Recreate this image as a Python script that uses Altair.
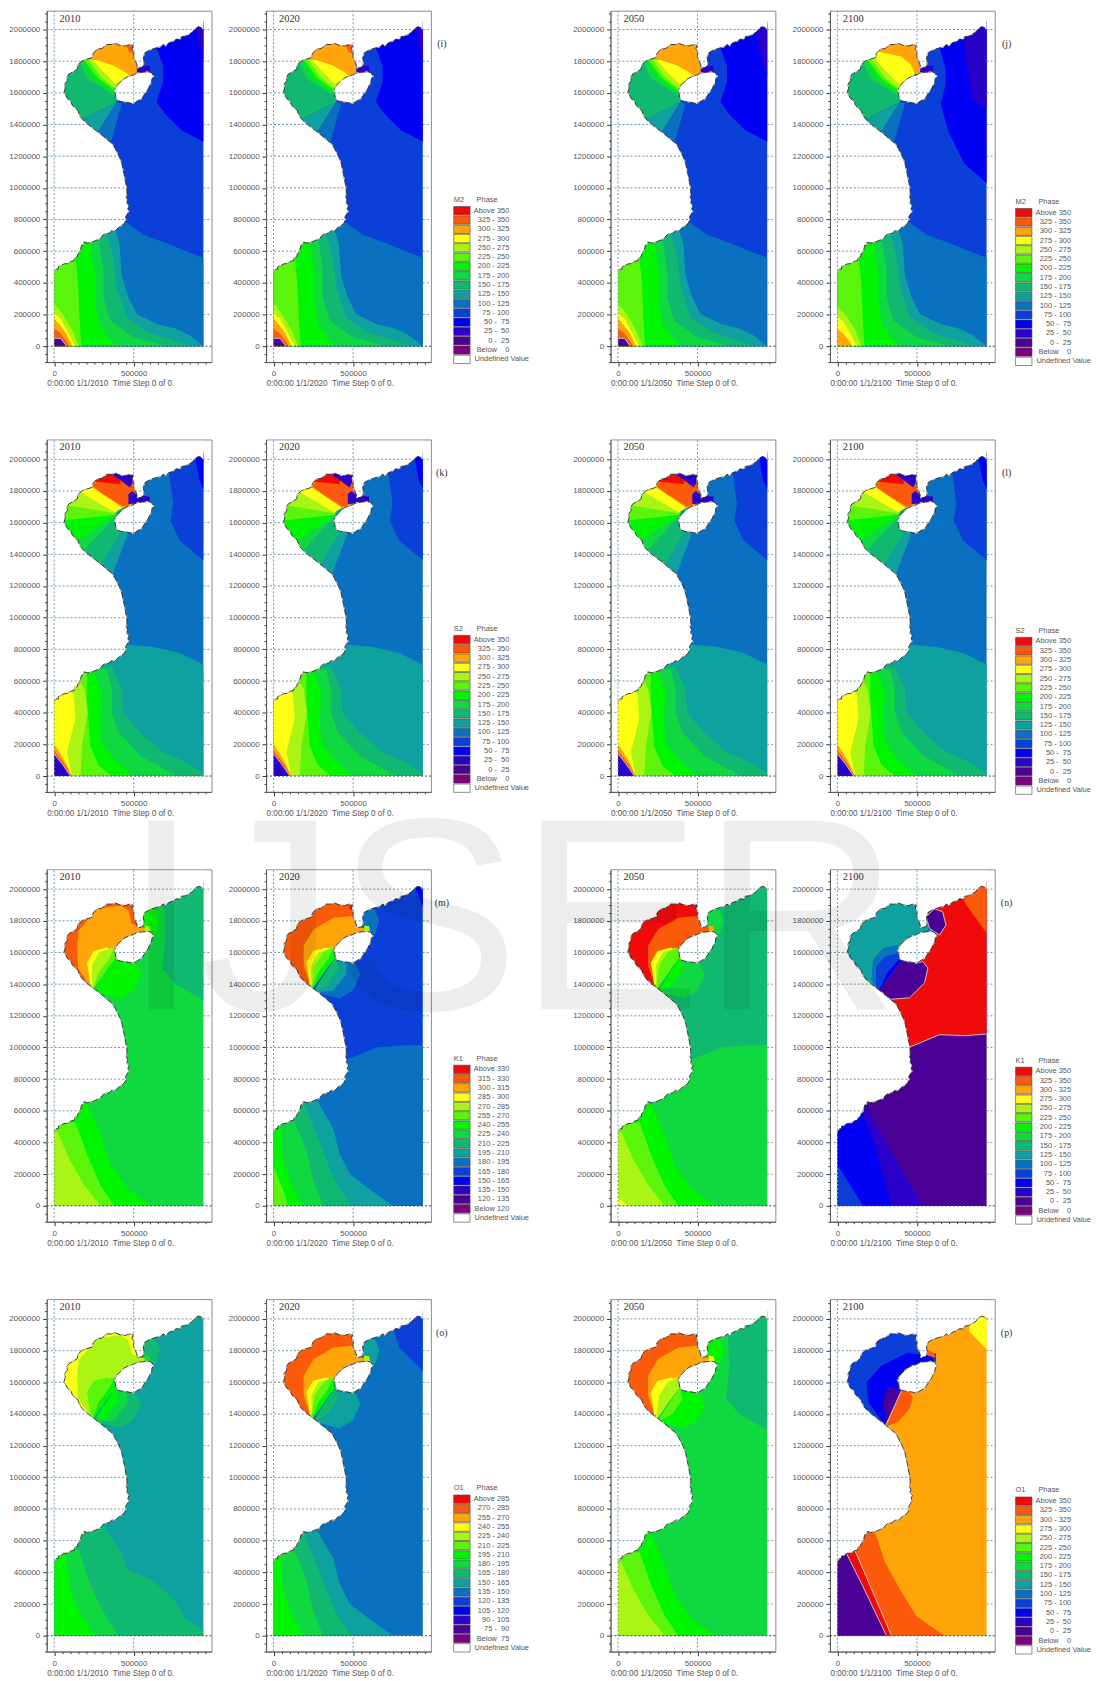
import altair as alt
import pandas as pd

COL = ["#F00A0A", "#FA5A0A", "#FFA50A", "#FFFF14", "#AAF514", "#5AF50A", "#00F500", "#10D840",
       "#10B870", "#0FA0A0", "#0A70C0", "#0A40D8", "#0000F5", "#2B00C8", "#4B0096", "#7F007F", "#FFFFFF"]

COAST = [(0,470),(14,488),(25,486),(27,503),(45,510),(62,520),(85,522),(108,537),(125,540),(129,558),(145,565),
 (149,582),(162,595),(166,612),(172,637),(183,640),(187,658),(210,652),(239,658),(262,668),(290,679),(300,695),
 (315,708),(345,714),(362,730),(384,729),(405,750),(425,762),(440,775),(452,798),(448,815),(456,829),(470,850),
 (463,870),(472,885),(456,902),(462,925),(452,945),(458,965),(456,1000),(448,1040),(440,1083),(432,1120),(425,1156),
 (412,1190),(398,1219),(382,1250),(363,1281),(338,1300),(311,1323),(285,1345),(259,1365),(232,1385),(207,1406),
 (185,1425),(166,1448),(155,1470),(149,1490),(130,1505),(114,1521),(105,1545),(83,1563),(72,1585),(62,1604),
 (70,1630),(66,1655),(83,1677),(80,1700),(93,1719),(118,1732),(145,1750),(150,1778),(176,1802),(205,1812),
 (239,1823),(245,1850),(270,1875),(300,1880),(332,1906),(360,1905),(384,1912),(415,1900),(446,1896),(475,1905),
 (498,1900),(490,1880),(502,1854),(498,1830),(510,1800),(519,1781),(523,1756),(545,1760),(560,1767),(565,1795),
 (560,1823),(571,1854),(600,1870),(643,1885),(670,1890),(685,1906),(700,1895),(720,1915),(747,1925),(770,1940),
 (790,1935),(799,1955),(825,1958),(851,1972),(870,1985),(885,2005),(907,2018),(925,2012),(938,2000)]
ISLAND = [(384,1629),(398,1650),(415,1667),(440,1690),(467,1704),(495,1712),(519,1725),(555,1730),(591,1733),
 (610,1728),(627,1704),(615,1690),(612,1667),(600,1645),(591,1625),(570,1595),(550,1562),(525,1550),(498,1531),
 (470,1538),(446,1542),(420,1545),(398,1552),(388,1570),(384,1594),(378,1610)]

XTOP, XLOW = 989, -47
YTOP, YLOW = 2125, -100

# ---------- shared band outlines (km) ----------
def west(pts):
    return pts + [(0, 0), (0, pts[0][1])]

RECT = [(0,0),(938,0),(938,2050),(0,2050)]
M_NORTH = [(452,783),(560,704),(705,652),(830,600),(938,558),(938,0),(0,0),(0,783)]
M_NE = [(643,1885),(685,1771),(685,1667),(643,1542),(705,1458),(799,1365),(938,1292),(938,2050),(643,2050)]
M_NE_2100 = [(643,1885),(680,1750),(680,1650),(650,1530),(700,1350),(800,1150),(938,1030),(938,2050),(643,2050)]
M_C13 = [(892,2030),(913,1896),(938,1812),(938,2030)]
M_C13_2050 = [(860,2030),(885,1900),(938,1700),(938,2030)]
M_C13_2100 = [(800,2030),(810,1800),(850,1560),(938,1500),(938,2030)]
M_SOUTH = [
 (9,[(384,735),(411,642),(425,444),(467,308),(519,204),(643,142),(768,110),(851,69),(938,0)]),
 (8,[(332,708),(373,558),(394,370),(457,182),(602,82),(851,6),(860,0)]),
 (7,[(280,665),(310,476),(310,307),(352,163),(497,56),(708,0)]),
 (6,[(228,652),(259,458),(259,270),(278,144),(384,0)]),
 (5,[(134,552),(149,414),(159,182),(170,0)])]
M_CORNER = [
 (4,[(0,270),(51,207),(114,100),(155,0)]),
 (3,[(0,207),(41,175),(90,81),(134,0)]),
 (2,[(0,175),(34,135),(76,81),(113,0)]),
 (1,[(0,110),(41,81),(72,38),(97,0)])]
M_CORNER_2100 = [
 (4,[(0,250),(51,200),(114,100),(150,0)]),
 (3,[(0,190),(41,150),(80,81),(120,0)]),
 (2,[(0,110),(35,80),(70,40),(95,0)])]
M_PURPLE = [(0,50),(41,50),(78,0)]
M_BAY = [
 (8,[(0,1440),(186,1437),(394,1542),(384,1600),(384,1650),(480,1700),(525,1750),(525,2000),(0,2000)]),
 (7,[(150,1820),(207,1689),(290,1640),(390,1575),(480,1700),(525,2000),(150,2000)]),
 (6,[(176,1815),(255,1690),(320,1640),(390,1595),(480,1700),(525,2000),(176,2000)]),
 (5,[(186,1815),(275,1695),(335,1650),(390,1610),(480,1700),(525,2000),(186,2000)]),
 (4,[(217,1810),(290,1705),(340,1660),(390,1625),(480,1700),(525,2000),(217,2000)]),
 (3,[(249,1800),(311,1730),(384,1657),(480,1700),(525,2000),(249,2000)])]
M_ORANGE = [(176,1815),(270,1806),(373,1772),(446,1730),(488,1699),(530,1700),(530,2000),(176,2000)]
M_ORANGE_2100 = [(190,1880),(300,1850),(400,1830),(460,1780),(490,1720),(530,1700),(530,2000),(190,2000)]
M_TIP = [(446,1915),(510,1915),(510,1840),(470,1860)]
M_TEAL = [(100,1420),(186,1437),(394,1542),(269,1344),(200,1300),(100,1300)]
M_BLUE = [(394,1542),(425,1532),(352,1272),(300,1250),(269,1344)]
M_STRAIT = [(520,1720),(600,1720),(600,1770),(520,1770)]

def m2(ne, c13, corner, orange, purple, tip):
    out = [(11, RECT), (12, ne), (13, c13), (10, M_NORTH)]
    out += [(c, west(p)) for c, p in M_SOUTH] + [(c, west(p)) for c, p in corner]
    out += [(14, M_PURPLE + [(0, 0)], M_PURPLE)] if purple else []
    out += [(c, p) for c, p in M_BAY] + [(2, orange)]
    out += [(1, M_TIP)] if tip else []
    out += [(9, M_TEAL), (10, M_BLUE), (13, M_STRAIT)]
    return out

S_NE = [(723,1906),(748,1718),(731,1613),(789,1488),(938,1363),(938,2050),(723,2050)]
S_TOP = [(883,2030),(914,1864),(938,1812),(938,2030)]
S_NORTH = [(460,830),(625,815),(790,777),(938,704),(938,0),(0,0),(0,830)]
S_SOUTH = [
 (8,[(362,694),(425,548),(435,401),(540,276),(685,150),(831,88),(938,15),(938,0)]),
 (7,[(331,673),(362,548),(362,401),(404,276),(540,130),(769,0)]),
 (6,[(248,663),(300,527),(290,360),(300,213),(373,109),(498,0)]),
 (5,[(206,652),(206,485),(217,339),(227,192),(279,67),(362,0)]),
 (4,[(150,620),(190,548),(210,401),(175,192),(165,0)]),
 (3,[(100,540),(123,516),(133,360),(81,150),(112,0)]),
 (2,[(0,203),(40,140),(81,67),(112,0)]),
 (1,[(0,161),(40,109),(71,67),(106,0)])]
S_PURPLE = [(0,140),(50,77),(102,0)]
S_BAY = [
 (9,[(0,1279),(369,1279),(460,1519),(470,1640),(525,1720),(525,2000),(0,2000)]),
 (8,[(0,1300),(300,1342),(430,1560),(383,1634),(525,2000),(0,2000)]),
 (7,[(0,1400),(185,1425),(383,1634),(525,2000),(0,2000)]),
 (6,[(0,1488),(144,1488),(383,1650),(525,2000),(0,2000)]),
 (5,[(0,1613),(60,1613),(383,1650),(525,2000),(0,2000)]),
 (4,[(0,1707),(92,1707),(383,1660),(525,2000),(0,2000)]),
 (3,[(0,1801),(150,1801),(383,1665),(440,1700),(250,1830),(100,2000),(0,2000)]),
 (2,[(230,1830),(435,1690),(525,1700),(525,2000),(200,2000)]),
 (1,[(269,1864),(240,1830),(310,1780),(435,1700),(467,1708),(525,1780),(525,2000),(220,2000)]),
 (0,[(250,1860),(415,1843),(430,2000),(250,2000)]),
 (13,[(362,1906),(415,1870),(477,1822),(508,1889),(508,2000),(362,2000)]),
 (13,[(467,1781),(490,1800),(525,1770),(600,1765),(600,1725),(467,1718)])]

def s2():
    out = [(10, RECT), (11, S_NE), (12, S_TOP), (9, S_NORTH)]
    out += [(c, west(p)) for c, p in S_SOUTH] + [(13, S_PURPLE + [(0, 0)], S_PURPLE)]
    out += [(c, p) for c, p in S_BAY]
    return out

D_S1000 = [(460,925),(650,1000),(800,1012),(938,1015),(938,0),(0,0),(0,925)]
D_CORNER = [(880,2030),(938,1890),(938,2030)]
D_NE = [(690,1950),(700,1700),(680,1500),(760,1400),(938,1300),(938,2050),(690,2050)]
D_NE2 = [(750,1950),(790,1820),(938,1670),(938,2050),(750,2050)]
B_LINES = [[(270,671),(374,494),(416,327),(479,202),(584,119),(751,0)],
           [(186,661),(270,452),(333,286),(395,140),(490,0)],
           [(123,557),(207,348),(249,161),(312,0)],
           [(50,494),(50,327),(102,161),(186,0)],
           [(2,244),(60,98),(92,0)]]
K_LINES = [[(210,643),(294,445),(357,256),(462,109),(609,0)],
           [(136,525),(210,315),(294,126),(378,0)],
           [(21,466),(95,294),(189,130),(294,0)],
           [(0,46),(73,0)]]
O_LINES = [[(310,694),(425,527),(456,422),(602,359),(748,234),(831,98),(938,35),(938,0)],
           [(154,548),(227,318),(310,150),(404,0)],
           [(71,506),(102,297),(165,130),(258,0)]]
N0 = [(560,1890),(640,1870),(665,1800),(640,1720),(600,1700),(540,1740),(540,1890)]
N1 = [(570,1720),(610,1720),(600,1765),(570,1770)]
BAY = [(0,1300),(241,1365),(385,1590),(500,1720),(525,1720),(525,2000),(0,2000)]
Z1 = [(241,1365),(189,1516),(189,1642),(252,1747),(378,1820),(493,1831),(546,1757),(600,1745),(600,1720),(487,1715),(388,1642),(385,1590)]
Z1_WIDE = [(241,1365),(150,1500),(144,1634),(154,1739),(269,1876),(415,1897),(467,1866),(488,1781),(546,1757),(600,1745),(600,1720),(487,1715),(388,1642),(385,1590)]
Z2 = [(241,1365),(241,1474),(283,1590),(378,1625),(385,1590)]
HUB = (400,1590)
LOBES = [[(260,1349),(416,1310),(500,1362),(546,1463),(510,1537),(458,1537),HUB],
         [(260,1349),(374,1359),(458,1463),(458,1526),(395,1578),HUB],
         [(249,1349),(343,1400),(406,1495),(385,1578),HUB],
         [(249,1359),(301,1432),(364,1537),(374,1610),HUB],
         [(238,1359),(280,1474),(343,1558),(374,1624),HUB],
         [(238,1370),(259,1516),(312,1600),(374,1631),HUB],
         [(238,1380),(238,1516),(280,1600),(364,1631),HUB],
         [(228,1391),(207,1537),(249,1610),(333,1631),HUB]]
LOBE_ORDER = [0, 1, 2, 3, 7, 6, 5, 4]
RED_TIP = [(470,1930),(520,1930),(520,1860),(480,1870)]

def diurnal(e0, e1, ne, ne_shape, lines, line_cols, bay, z1, z2, lobes, n0, n1, tip=None, z1_shape=Z1):
    out = [(e0, RECT)]
    if e1 is not None:
        out.append((e1, D_S1000))
    if ne is not None:
        out.append((ne, ne_shape))
    out += [(c, west(p)) for c, p in zip(line_cols, lines)]
    out += [(n0, N0), (bay, BAY), (z1, z1_shape)]
    if z2 is not None:
        out.append((z2, Z2))
    out.append((n1, N1))
    out += [(lobes[k], LOBES[k]) for k in LOBE_ORDER]
    if tip is not None:
        out.append((tip, RED_TIP))
    return out

K_NE_BAY = [(558,1825),(610,1877),(662,1856),(683,1773),(642,1710),(579,1752)]
K_LOBE = [(256,1346),(329,1304),(454,1314),(548,1408),(569,1502),(537,1543),(496,1533),(402,1554)]
K2100 = [
 (14, RECT),
 (0, [(454,1002),(641,1081),(808,1075),(938,1085),(938,2050),(535,2050),(535,1700),(410,1500),(250,1300),(300,1200)],
  [(454,1002),(641,1081),(808,1075),(938,1085)]),
 (1, [(798,1918),(938,1721),(938,2050),(798,2050)]),
 (13, west([(183,627),(350,325),(537,0)])),
 (12, west([(162,575),(235,387),(340,0)])),
 (11, [(0,262),(162,0),(0,0)]),
 (9, [(0,1300),(256,1346),(402,1554),(530,1730),(570,1730),(570,1775),(530,1775),(530,2000),(0,2000)]),
 (10, [(570,1730),(610,1735),(610,1775),(570,1775)]),
 (14, K_NE_BAY, K_NE_BAY + K_NE_BAY[:1]),
 (14, K_LOBE, K_LOBE),
 (10, [(214,1429),(225,1554),(287,1627),(381,1648),(402,1554),(256,1346)]),
 (11, [(243,1373),(243,1510),(300,1575),(385,1595),(402,1554),(256,1346)]),
 (12, [(256,1346),(312,1470),(390,1560),(402,1554)])]
O_C0 = [(110,537),(173,392),(235,246),(340,0)]
O_C14 = [(58,517),(162,308),(308,0)]
O_LOBE = [(302,1319),(381,1350),(454,1433),(475,1506),(454,1537),(402,1548)]
O2100 = [
 (2, RECT),
 (3, [(829,1923),(938,1808),(938,2050),(829,2050)]),
 (1, west([(235,658),(298,465),(402,277),(496,125),(673,0)])),
 (0, west(O_C0), O_C0),
 (14, west(O_C14), O_C14),
 (11, [(0,1300),(298,1329),(402,1548),(530,1730),(620,1730),(620,1780),(530,1790),(530,2000),(0,2000)]),
 (12, [(298,1329),(194,1475),(183,1600),(275,1704),(441,1787),(587,1766),(610,1735),(500,1700),(402,1548)]),
 (14, [(308,1350),(287,1475),(319,1569),(402,1548)]),
 (1, O_LOBE, [(302,1319),(402,1548)]),
 (1, [(558,1808),(600,1790),(620,1760),(600,1760),(565,1770)])]

PANELS = [
 [m2(M_NE, M_C13, M_CORNER, M_ORANGE, True, True), m2(M_NE, M_C13, M_CORNER, M_ORANGE, True, True),
  m2(M_NE, M_C13_2050, M_CORNER, M_ORANGE, True, False), m2(M_NE_2100, M_C13_2100, M_CORNER_2100, M_ORANGE_2100, False, False)],
 [s2(), s2(), s2(), s2()],
 [diurnal(7, None, 8, D_NE, K_LINES, [6,5,4], 1, 2, None, [6,6,6,5,5,4,4,3], 6, 4, z1_shape=Z1_WIDE),
  diurnal(11, 10, 12, D_CORNER, B_LINES, [9,8,7,6,5], 1, 2, None, [10,9,8,7,6,5,4,3], 10, 4, 0),
  diurnal(8, 7, None, D_NE, K_LINES, [6,5,4,3], 0, 1, 2, [7,7,6,6,5,5,4,3], 7, 2),
  K2100],
 [diurnal(9, None, None, D_NE, O_LINES, [8,7,6], 3, 4, None, [8,7,6,6,6,5,5,5], 8, 7, z1_shape=Z1_WIDE),
  diurnal(10, None, 11, D_NE2, B_LINES, [9,8,7,6,6], 1, 2, None, [9,9,8,7,6,5,4,3], 9, 4),
  diurnal(7, None, 8, D_NE, K_LINES, [6,5,4], 1, 2, 3, [6,6,5,5,4,4,3,3], 6, 3),
  O2100]]

YEARS = ["2010", "2020", "2050", "2100"]
LETTERS = [["(i)", "(j)"], ["(k)", "(l)"], ["(m)", "(n)"], ["(o)", "(p)"]]
TIDES = [["M2", "M2"], ["S2", "S2"], ["K1", "K1"], ["O1", "O1"]]
NB = "\u00a0"
RANGE_M2 = ["Above 350","325 - 350","300 - 325","275 - 300","250 - 275","225 - 250","200 - 225","175 - 200",
            "150 - 175","125 - 150","100 - 125","75 - 100",f"50 -{NB}{NB}75",f"25 -{NB}{NB}50",f"0 -{NB}{NB}25",
            f"Below{NB}{NB}{NB}{NB}0","Undefined Value"]
RANGE_K1 = ["Above 330","315 - 330","300 - 315","285 - 300","270 - 285","255 - 270","240 - 255","225 - 240",
            "210 - 225","195 - 210","180 - 195","165 - 180","150 - 165","135 - 150","120 - 135","Below 120","Undefined Value"]
RANGE_O1 = ["Above 285","270 - 285","255 - 270","240 - 255","225 - 240","210 - 225","195 - 210","180 - 195",
            "165 - 180","150 - 165","135 - 150","120 - 135","105 - 120","90 - 105",f"75 -{NB}{NB}90",
            f"Below{NB}{NB}75","Undefined Value"]
RANGES = [[RANGE_M2, RANGE_M2], [RANGE_M2, RANGE_M2], [RANGE_K1, RANGE_M2], [RANGE_O1, RANGE_M2]]
WATERMARK = "IJSER"

FONT = "Liberation Sans"
GREY = "#555555"
GRID = "#6F98AC"

# ---------- data frames ----------
def poly_frames(spec):
    rows, lines = [], []
    for pid, item in enumerate(spec):
        c, pts = item[0], item[1]
        for i, (x, y) in enumerate(pts):
            rows.append({"pid": pid, "i": i, "x": x * 1000, "y": y * 1000, "c": COL[c]})
        if len(item) > 2:
            for i, (x, y) in enumerate(item[2]):
                lines.append({"pid": pid, "i": i, "x": x * 1000, "y": y * 1000})
    return pd.DataFrame(rows), pd.DataFrame(lines, columns=["pid", "i", "x", "y"])

def ring_frame(pts, pid=0):
    return pd.DataFrame([{"pid": pid, "i": i, "x": x * 1000, "y": y * 1000} for i, (x, y) in enumerate(pts)])

COAST_DF = ring_frame(COAST)
ISLE_DF = ring_frame(ISLAND)
ISLE_LINE = ring_frame(ISLAND + [ISLAND[0]])

SEA_RINGS = [COAST + [(938, 0), (0, 0)], ISLAND]

def land_segments(v, lo, hi, horizontal):
    """Parts of a grid line that lie off the sea, found from the coast arrays."""
    if v == 0:
        return [(lo, hi)]
    cuts = []
    for ring in SEA_RINGS:
        for (x1, y1), (x2, y2) in zip(ring, ring[1:] + ring[:1]):
            a, b, p, q = (y1, y2, x1, x2) if horizontal else (x1, x2, y1, y2)
            if min(a, b) <= v < max(a, b):
                cuts.append(p + (v - a) / (b - a) * (q - p))
    cuts = sorted(cuts)
    ends = [lo] + cuts + [hi]
    return [(ends[i], ends[i + 1]) for i in range(0, len(ends) - 1, 2)]

def grid_frames(ytop):
    h, w = [], []
    for v in range(0, 2001, 200):
        for a, b in land_segments(v, XLOW, XTOP, True):
            h.append({"x": a * 1000, "x2": b * 1000, "y": v * 1000, "c": "#2A4A58" if v == 0 else GRID})
    for v in (0, 500):
        for a, b in land_segments(v, YLOW, ytop, False):
            w.append({"x": v * 1000, "y": a * 1000, "y2": b * 1000, "c": GRID})
    return pd.DataFrame(h), pd.DataFrame(w)

XVALS = list(range(0, 950001, 50000))
YVALS = list(range(-100000, 2100001, 50000))

def panel(spec, year, height, ytop):
    xs = alt.Scale(domain=[XLOW * 1000, XTOP * 1000], nice=False, zero=False)
    ys = alt.Scale(domain=[YLOW * 1000, ytop * 1000], nice=False, zero=False)
    xaxis = alt.Axis(values=XVALS, grid=False, labelExpr="datum.value % 500000 === 0 ? '' + datum.value : ''",
                     tickSize={"condition": {"test": "datum.value % 500000 === 0", "value": 4}, "value": 2},
                     title=f"0:00:00 1/1/{year}{NB}{NB}Time Step 0 of 0.", titleX=0, titleY=22, titleAlign="left",
                     titleBaseline="middle", titleAnchor="start", titleFont=FONT, titleFontSize=8.2,
                     titleFontWeight="normal", titleColor=GREY,
                     labelFont=FONT, labelFontSize=8, labelColor=GREY, labelPadding=4, labelOverlap=False,
                     labelFlush=False, domainColor=GREY, tickColor="#333333", tickWidth=1)
    yaxis = alt.Axis(values=YVALS, grid=False, title=None,
                     labelExpr="datum.value % 200000 === 0 ? '' + datum.value : ''",
                     tickSize={"condition": {"test": "datum.value % 200000 === 0", "value": 4}, "value": 2},
                     labelFont=FONT, labelFontSize=8, labelColor=GREY, labelPadding=3, labelOverlap=False,
                     labelFlush=False, domainColor=GREY, tickColor="#333333", tickWidth=1)
    X0 = alt.X("x:Q", scale=xs, axis=xaxis)
    Y0 = alt.Y("y:Q", scale=ys, axis=yaxis)
    bands, outlines = poly_frames(spec)
    gh, gv = grid_frames(ytop)
    # land is painted white just inside the frame, so the frame line stays visible
    mask = ring_frame(COAST + [(938, ytop - 8), (XLOW + 8, ytop - 8), (XLOW + 8, 470)])
    layers = [
        alt.Chart(bands).mark_line(filled=True, strokeWidth=0).encode(
            x=X0, y=Y0, color=alt.Color("c:N", scale=None), detail="pid:N", order="i:Q")]
    if len(outlines):
        layers.append(alt.Chart(outlines).mark_line(color="#C8C0C0", strokeWidth=1).encode(
            x=X0, y=Y0, detail="pid:N", order="i:Q"))
    layers += [
        alt.Chart(mask).mark_line(filled=True, color="#FFFFFF", strokeWidth=0).encode(x=X0, y=Y0, order="i:Q"),
        alt.Chart(ISLE_DF).mark_line(filled=True, color="#FFFFFF", strokeWidth=0).encode(x=X0, y=Y0, order="i:Q"),
        alt.Chart(COAST_DF).mark_line(color="#2A2A2A", strokeWidth=0.9).encode(x=X0, y=Y0, order="i:Q"),
        alt.Chart(ISLE_LINE).mark_line(color="#2A2A2A", strokeWidth=0.9).encode(x=X0, y=Y0, order="i:Q"),
        alt.Chart(COAST_DF).mark_line(color="#E8E8E8", strokeWidth=0.8, strokeDash=[3, 6]).encode(x=X0, y=Y0, order="i:Q"),
        alt.Chart(ISLE_LINE).mark_line(color="#E8E8E8", strokeWidth=0.8, strokeDash=[3, 6]).encode(x=X0, y=Y0, order="i:Q"),
        alt.Chart(gh).mark_rule(strokeDash=[2, 2], strokeWidth=1).encode(
            x=X0, x2="x2:Q", y=Y0, color=alt.Color("c:N", scale=None)),
        alt.Chart(gv).mark_rule(strokeDash=[2, 2], strokeWidth=1).encode(
            x=X0, y=Y0, y2="y2:Q", color=alt.Color("c:N", scale=None)),
        alt.Chart(pd.DataFrame({"t": [year]})).mark_text(
            font="Liberation Serif", fontSize=10.5, color="#333333", align="left", baseline="middle").encode(
            x=alt.value(13), y=alt.value(8), text="t:N"),
    ]
    return alt.layer(*layers).properties(
        width=166, height=height, view=alt.ViewBackground(stroke="#8A8A8A", strokeWidth=1))

def legend(tide, labels, letter, width, height, first, swatch_x, mark_x, watermark=False):
    step = 9.36
    df = pd.DataFrame({"i": range(len(labels)), "c": COL[:len(labels)], "t": labels})
    ys = alt.Scale(domain=[-first / step, (height - first) / step], reverse=True, nice=False, zero=False)
    Y = alt.Y("i:Q", scale=ys, axis=None)
    layers = [
        alt.Chart(df).mark_rect(height=8.4, stroke="#444444", strokeWidth=0.6).encode(
            x=alt.value(swatch_x), x2=alt.value(swatch_x + 16.5), y=Y, color=alt.Color("c:N", scale=None)),
        alt.Chart(df[:-1]).mark_text(font=FONT, fontSize=7.5, color=GREY, align="right", baseline="middle").encode(
            x=alt.value(swatch_x + 56), y=Y, text="t:N"),
        alt.Chart(df[-1:]).mark_text(font=FONT, fontSize=7.5, color=GREY, align="left", baseline="middle").encode(
            x=alt.value(swatch_x + 21), y=Y, text="t:N"),
        alt.Chart(pd.DataFrame({"t": [tide, "Phase"], "x": [swatch_x, swatch_x + 23], "i": [-1.15, -1.15]})).mark_text(
            font=FONT, fontSize=7.5, color=GREY, align="left", baseline="middle").encode(
            x=alt.X("x:Q", scale=alt.Scale(domain=[0, width], nice=False, zero=False), axis=None), y=Y, text="t:N"),
        alt.Chart(pd.DataFrame({"t": [letter]})).mark_text(
            font="Liberation Serif", fontSize=10, color="#333333", align="center", baseline="middle").encode(
            x=alt.value(mark_x), y=alt.value(34), text="t:N"),
    ]
    if watermark:
        layers.append(alt.Chart(pd.DataFrame({"t": [WATERMARK]})).mark_text(
            font=FONT, fontSize=276, color="#000000", opacity=0.065, align="left", baseline="alphabetic").encode(
            x=alt.value(-878), y=alt.value(141), text="t:N"))
    return alt.layer(*layers).properties(width=width, height=height, view=alt.ViewBackground(stroke="transparent"))

def spacer(width, height):
    return alt.Chart(pd.DataFrame({"a": [0]})).mark_point(opacity=0, size=1).encode(
        x=alt.value(width / 2), y=alt.value(height / 2)).properties(
        width=width, height=height, view=alt.ViewBackground(stroke="transparent"))

cells = []
for r in range(4):
    h = 354 if r == 0 else 355
    yt = 2119 if r == 0 else YTOP
    p = PANELS[r]
    cells += [panel(p[0], YEARS[0], h, yt), spacer(55, h), panel(p[1], YEARS[1], h, yt),
              legend(TIDES[r][0], RANGES[r][0], LETTERS[r][0], 181, h, 201.5, 23, 11),
              panel(p[2], YEARS[2], h, yt), spacer(55, h), panel(p[3], YEARS[3], h, yt),
              legend(TIDES[r][1], RANGES[r][1], LETTERS[r][1], 96, h, 203.5, 21, 12, watermark=(r == 2))]

chart = alt.concat(*cells, columns=8, spacing={"row": 78, "column": 0}, bounds="flush", align="each").properties(
    padding={"left": 0, "top": -5.5, "right": 0, "bottom": 0}, background="white")

chart.save("out.html", embed_options={"renderer": "svg", "actions": False})
